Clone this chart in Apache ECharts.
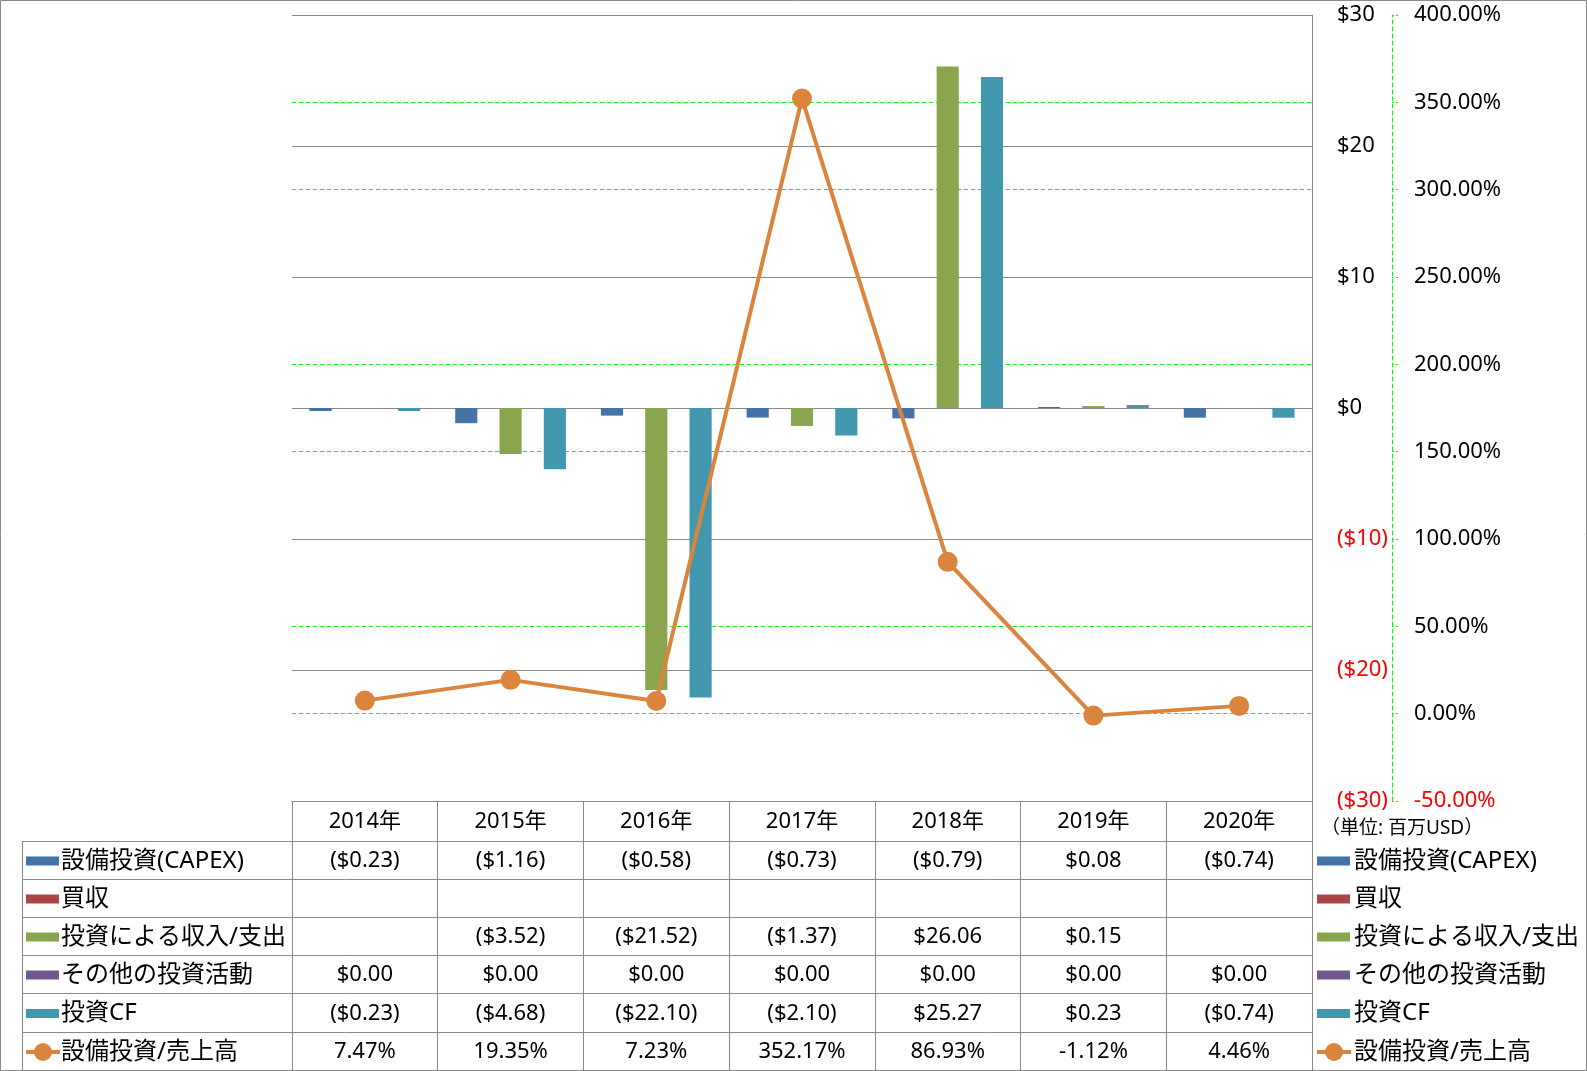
<!DOCTYPE html>
<html><head><meta charset="utf-8">
<script src="https://cdn.jsdelivr.net/npm/echarts@6/dist/echarts.min.js"></script>
<style>html,body{margin:0;padding:0;background:#fff}#c{width:1587px;height:1071px}</style>
</head><body><div id="c"></div>
<script>
// ---- data ----
const categories = ['2014年','2015年','2016年','2017年','2018年','2019年','2020年'];
const capex        = [-0.23, -1.16, -0.58, -0.73, -0.79, 0.08, -0.74];
const acquisition  = [null, null, null, null, null, null, null];
const investIncome = [null, -3.52, -21.52, -1.37, 26.06, 0.15, null];
const otherInvest  = [0, 0, 0, 0, 0, 0, 0];
const investCF     = [-0.23, -4.68, -22.10, -2.10, 25.27, 0.23, -0.74];
const capexRatio   = [7.47, 19.35, 7.23, 352.17, 86.93, -1.12, 4.46];
const seriesNames  = ['設備投資(CAPEX)','買収','投資による収入/支出','その他の投資活動','投資CF','設備投資/売上高'];
const unitNote     = '（単位: 百万USD）';
const leftAxisRange  = [-30, 30, 10];
const rightAxisRange = [-50, 400, 50];

// ---- styles ----
const colors = ['#4572A7','#AA4643','#89A54E','#71588F','#4198AF','#DB843D'];
const FONT = '"Noto Sans","Noto Sans CJK JP",sans-serif';
const GRAY = '#898989';
const GREEN = '#00FF00';
const W = 1587, H = 1071;
const gridL = 292, gridR = 1312, gridT = 15, gridB = 801;
const tableRows = [841, 879, 917, 955, 993, 1032, 1070];

function money(v){
  if (v === null || v === undefined) return '';
  return v < 0 ? '($' + Math.abs(v).toFixed(2) + ')' : '$' + v.toFixed(2);
}
function pct(v){ return (v === null || v === undefined) ? '' : v.toFixed(2) + '%'; }

const barData = [capex, acquisition, investIncome, otherInvest, investCF];

const chart = echarts.init(document.getElementById('c'), null, {renderer:'canvas'});
const series = barData.map((d, i) => ({
  name: seriesNames[i], type: 'bar', data: d, yAxisIndex: 0,
  barGap: '0%', barCategoryGap: '24%',
  itemStyle: {color: colors[i]}, z: 2
}));
series.push({
  name: seriesNames[5], type: 'line', data: capexRatio, yAxisIndex: 1,
  symbol: 'circle', symbolSize: 20, showSymbol: true,
  lineStyle: {color: colors[5], width: 4},
  itemStyle: {color: colors[5]}, z: 5
});

chart.setOption({
  animation: false,
  backgroundColor: '#fff',
  grid: {left: gridL, right: W - gridR, top: gridT, bottom: H - gridB, containLabel: false},
  xAxis: {
    type: 'category', data: categories, boundaryGap: true,
    axisLine: {show: true, onZero: false, lineStyle: {color: GRAY, width: 1}},
    axisTick: {show: true, interval: 0, length: tableRows[6] - gridB, lineStyle: {color: GRAY}},
    axisLabel: {interval: 0, margin: 10, fontSize: 22, color: '#000', fontFamily: FONT},
    splitLine: {show: false}
  },
  yAxis: [{
    type: 'value', position: 'right', z: 2, min: leftAxisRange[0], max: leftAxisRange[1], interval: leftAxisRange[2],
    axisLine: {show: true, lineStyle: {color: GRAY}},
    axisTick: {show: false},
    axisLabel: {margin: 25, fontSize: 22, fontFamily: FONT, padding: [4, 0, 0, 0],
      formatter: v => v < 0 ? '($' + Math.abs(v) + ')' : '$' + v,
      color: v => (v < 0 ? '#FF0000' : '#000')},
    splitLine: {show: true, lineStyle: {color: GRAY, width: 1}}
  }, {
    type: 'value', position: 'right', z: 1, offset: 80, min: rightAxisRange[0], max: rightAxisRange[1], interval: rightAxisRange[2],
    axisLine: {show: true, lineStyle: {color: GREEN, type: [4, 3], width: 1}},
    axisTick: {show: true, length: 6, lineStyle: {color: GREEN, type: [2, 2]}},
    axisLabel: {margin: 22, fontSize: 22, fontFamily: FONT, padding: [3, 0, 0, 0],
      formatter: v => v.toFixed(2) + '%',
      color: v => (v < 0 ? '#FF0000' : '#000')},
    splitLine: {show: true, lineStyle: {color: GREEN, width: 1, type: [4, 3]}}
  }],
  series: series
});

// ---- data table & legends ----
const g = [];
g.push({type:'rect', shape:{x:0.5, y:0.5, width:W-1, height:H-1}, style:{fill:'none', stroke:GRAY, lineWidth:1}, silent:true});
tableRows.forEach(y => g.push({type:'line', shape:{x1:22, y1:y+0.5, x2:gridR, y2:y+0.5}, style:{stroke:GRAY, lineWidth:1}, silent:true}));
g.push({type:'line', shape:{x1:22.5, y1:tableRows[0], x2:22.5, y2:tableRows[6]}, style:{stroke:GRAY, lineWidth:1}, silent:true});

const rowData = [capex, acquisition, investIncome, otherInvest, investCF, capexRatio];
function legendKey(i, x, yc){
  if (i < 5) {
    g.push({type:'rect', shape:{x:x, y:yc-4.5, width:33, height:9}, style:{fill:colors[i]}, silent:true});
  } else {
    g.push({type:'line', shape:{x1:x, y1:yc, x2:x+34, y2:yc}, style:{stroke:colors[5], lineWidth:4}, silent:true});
    g.push({type:'circle', shape:{cx:x+17, cy:yc, r:9}, style:{fill:colors[5]}, silent:true});
  }
}
function txt(x, y, t, size, align){
  return {type:'text', x:x, y:y, style:{text:t, font:size + 'px ' + FONT, fill:'#000', textAlign:align, textVerticalAlign:'middle', align:align, verticalAlign:'middle'}, silent:true};
}
rowData.forEach((d, r) => {
  const yc = (tableRows[r] + tableRows[r+1]) / 2 + 1;
  legendKey(r, 26, yc);
  g.push(txt(61, yc, seriesNames[r], 24, 'left'));
  legendKey(r, 1317, yc);
  g.push(txt(1354, yc, seriesNames[r], 24, 'left'));
  d.forEach((v, i) => {
    const x = chart.convertToPixel({xAxisIndex:0}, i);
    g.push(txt(x, yc, r === 5 ? pct(v) : money(v), 22, 'center'));
  });
});
g.push(txt(1321, 829, unitNote, 19, 'left'));

chart.setOption({graphic: {elements: g}});
</script>
</body></html>
